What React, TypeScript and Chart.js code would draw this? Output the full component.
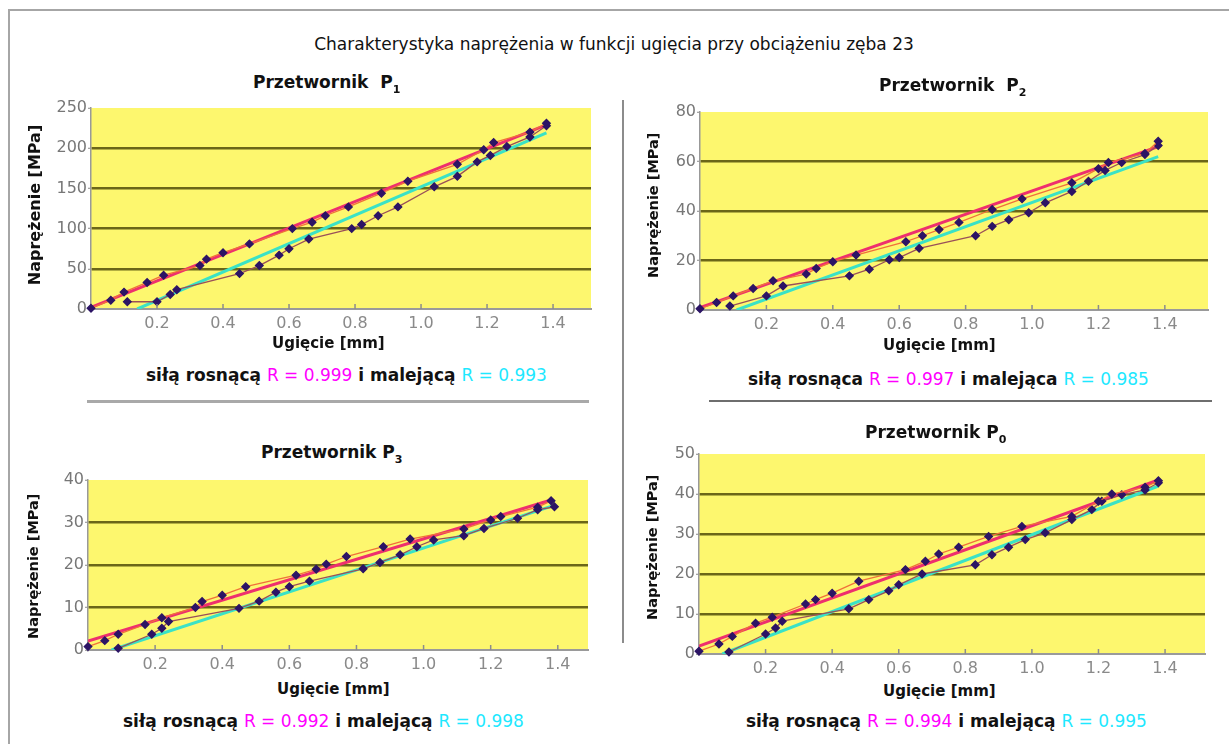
import React, { useEffect, useRef } from 'react';
import { Chart, registerables } from 'chart.js';

Chart.register(...registerables);

const FONT = "'DejaVu Sans', 'Liberation Sans', sans-serif";

// ---------- Przetwornik P1 ----------
const p1UpX = [0.0, 0.06, 0.1, 0.17, 0.22, 0.33, 0.35, 0.4, 0.48, 0.61, 0.67, 0.71, 0.78, 0.88, 0.96, 1.11, 1.19, 1.22, 1.33, 1.38];
const p1UpY = [1, 11, 21, 33, 42, 54, 62, 70, 81, 100, 108, 116, 127, 144, 159, 180, 198, 207, 220, 231];
const p1DownX = [1.38, 1.33, 1.26, 1.21, 1.17, 1.11, 1.04, 0.93, 0.87, 0.82, 0.79, 0.66, 0.6, 0.57, 0.51, 0.45, 0.26, 0.24, 0.2, 0.11];
const p1DownY = [228, 214, 202, 191, 183, 165, 152, 127, 116, 105, 100, 87, 75, 67, 54, 44, 24, 18, 9, 9];
const p1TrendUpX = [0, 1.38];
const p1TrendUpY = [2, 229];
const p1TrendDownX = [0.14, 1.38];
const p1TrendDownY = [0, 219];

// ---------- Przetwornik P2 ----------
const p2UpX = [0.0, 0.05, 0.1, 0.16, 0.22, 0.32, 0.35, 0.4, 0.47, 0.62, 0.67, 0.72, 0.78, 0.88, 0.97, 1.12, 1.2, 1.23, 1.34, 1.38];
const p2UpY = [0.5, 3, 5.7, 8.7, 11.8, 14.5, 16.8, 19.5, 22.2, 27.6, 30, 32.5, 35.4, 40.6, 44.9, 51.4, 57.1, 59.6, 63.2, 68.2];
const p2DownX = [1.38, 1.34, 1.27, 1.22, 1.17, 1.12, 1.04, 0.99, 0.93, 0.88, 0.83, 0.66, 0.6, 0.57, 0.51, 0.45, 0.25, 0.2, 0.09];
const p2DownY = [66.5, 62.8, 59.6, 56.4, 52, 47.9, 43.3, 39.3, 36.5, 33.8, 30, 24.9, 21.2, 20.3, 16.5, 13.8, 9.7, 5.7, 1.6];
const p2TrendUpX = [0, 1.38];
const p2TrendUpY = [1, 66];
const p2TrendDownX = [0.11, 1.38];
const p2TrendDownY = [0, 62];

// ---------- Przetwornik P3 ----------
const p3UpX = [0.0, 0.05, 0.09, 0.17, 0.22, 0.32, 0.34, 0.4, 0.47, 0.62, 0.68, 0.71, 0.77, 0.88, 0.96, 1.12, 1.2, 1.23, 1.34, 1.38];
const p3UpY = [0.8, 2.2, 3.7, 6, 7.6, 10, 11.4, 12.9, 14.9, 17.6, 19, 20.2, 22, 24.3, 26.1, 28.5, 30.6, 31.4, 33.6, 35.1];
const p3DownX = [1.39, 1.34, 1.28, 1.18, 1.12, 1.03, 0.98, 0.93, 0.87, 0.82, 0.66, 0.6, 0.56, 0.51, 0.45, 0.24, 0.22, 0.19, 0.09];
const p3DownY = [33.7, 33.0, 31, 28.6, 26.9, 25.9, 24.3, 22.4, 20.6, 19.1, 16.2, 14.9, 13.6, 11.5, 9.8, 6.7, 5.1, 3.7, 0.4];
const p3TrendUpX = [0, 1.38];
const p3TrendUpY = [2.1, 35.3];
const p3TrendDownX = [0.07, 1.38];
const p3TrendDownY = [0, 33.8];

// ---------- Przetwornik P0 ----------
const p0UpX = [0.0, 0.06, 0.1, 0.17, 0.22, 0.32, 0.35, 0.4, 0.48, 0.62, 0.68, 0.72, 0.78, 0.87, 0.97, 1.12, 1.2, 1.24, 1.34, 1.38];
const p0UpY = [0.7, 2.5, 4.4, 7.7, 9.2, 12.5, 13.6, 15.2, 18.2, 21.1, 23.2, 25, 26.7, 29.4, 31.9, 34.4, 38.2, 40, 41.7, 43.3];
const p0DownX = [1.38, 1.34, 1.27, 1.21, 1.18, 1.12, 1.04, 0.98, 0.93, 0.88, 0.83, 0.67, 0.6, 0.57, 0.51, 0.45, 0.25, 0.23, 0.2, 0.09];
const p0DownY = [42.8, 41, 39.8, 38.2, 36.1, 33.6, 30.3, 28.6, 26.7, 24.8, 22.3, 20, 17.3, 15.8, 13.6, 11.3, 8.2, 6.5, 5, 0.5];
const p0TrendUpX = [0, 1.38];
const p0TrendUpY = [2, 43.5];
const p0TrendDownX = [0.07, 1.38];
const p0TrendDownY = [0, 42];

// axis ranges
const xMaxes = [1.515, 1.53, 1.49, 1.52];
const yMaxes = [250, 80, 40, 50];
const ySteps = [50, 20, 10, 10];

// texts
const mainTitle = 'Charakterystyka naprężenia w funkcji ugięcia przy obciążeniu zęba 23';
const xTitle = 'Ugięcie [mm]';
const yTitle = 'Naprężenie [MPa]';
const rUp = ['R = 0.999', 'R = 0.997', 'R = 0.992', 'R = 0.994'];
const rDown = ['R = 0.993', 'R = 0.985', 'R = 0.998', 'R = 0.995'];
const capA = ['siłą rosnącą ', 'siłą rosnąca ', 'siłą rosnącą ', 'siłą rosnącą '];
const capB = [' i malejącą ', ' i malejąca ', ' i malejącą ', ' i malejącą '];
const subs = ['1', '2', '3', '0'];

const zip = (xs: number[], ys: number[]) => xs.map((x, i) => ({ x, y: ys[i] }));

type Geo = { L: number; R: number; T: number; B: number };

const bgPlugin = {
  id: 'yellowBg',
  beforeDraw(chart: any) {
    const { ctx, chartArea } = chart;
    ctx.save();
    ctx.fillStyle = '#fdf76e';
    ctx.fillRect(chartArea.left, chartArea.top, chartArea.right - chartArea.left, chartArea.bottom - chartArea.top);
    ctx.restore();
  },
};

const innerTicks = {
  id: 'innerTicks',
  afterDraw(chart: any) {
    const { ctx, chartArea } = chart;
    const xs = chart.scales.x;
    ctx.save();
    ctx.strokeStyle = '#8c8c8c';
    ctx.lineWidth = 1.5;
    ctx.beginPath();
    xs.ticks.forEach((t: any) => {
      if (Math.abs(t.value) < 1e-9) return;
      const px = xs.getPixelForValue(t.value);
      ctx.moveTo(px, chartArea.bottom);
      ctx.lineTo(px, chartArea.bottom - 5);
    });
    ctx.stroke();
    ctx.restore();
  },
};

function Plot(props: {
  geo: Geo; xMax: number; yMax: number; yStep: number;
  up: { x: number; y: number }[]; down: { x: number; y: number }[];
  tUp: { x: number; y: number }[]; tDown: { x: number; y: number }[];
}) {
  const { geo, xMax, yMax, yStep } = props;
  const yW = 50, xH = 28, padT = 12, padR = 14;
  const width = yW + (geo.R - geo.L) + padR;
  const height = padT + (geo.B - geo.T) + xH;
  const ref = useRef<HTMLCanvasElement>(null);
  useEffect(() => {
    if (!ref.current) return;
    const marker = '#2c1465';
    const chart = new Chart(ref.current, {
      type: 'scatter',
      data: {
        datasets: [
          { data: props.up, showLine: true, borderColor: '#f0703a', borderWidth: 1.3, pointStyle: 'rectRot', pointRadius: 3.8, pointBackgroundColor: marker, pointBorderColor: marker, order: 1, clip: false } as any,
          { data: props.down, showLine: true, borderColor: '#9a5058', borderWidth: 1.3, pointStyle: 'rectRot', pointRadius: 3.8, pointBackgroundColor: marker, pointBorderColor: marker, order: 2, clip: false } as any,
          { data: props.tUp, showLine: true, borderColor: '#ee2f6e', borderWidth: 3, pointRadius: 0, order: 3 } as any,
          { data: props.tDown, showLine: true, borderColor: '#3ae2c6', borderWidth: 3, pointRadius: 0, order: 4 } as any,
        ],
      },
      options: {
        animation: false,
        responsive: false,
        maintainAspectRatio: false,
        devicePixelRatio: 1,
        layout: { padding: { top: padT, right: padR, left: 0, bottom: 0 } },
        plugins: { legend: { display: false }, tooltip: { enabled: false }, title: { display: false } },
        scales: {
          x: {
            type: 'linear', min: 0, max: xMax,
            afterFit: (s: any) => { s.height = xH; },
            grid: { display: false },
            border: { display: true, color: '#9a9a9a', width: 2 },
            ticks: {
              stepSize: 0.2, includeBounds: false, autoSkip: false, maxRotation: 0, padding: -3,
              color: '#8a8a8a', font: { family: FONT, size: 16 },
              callback: (v: any) => (Math.abs(Number(v)) < 1e-9 ? '' : Number(v).toFixed(1)),
            },
          },
          y: {
            type: 'linear', min: 0, max: yMax,
            afterFit: (s: any) => { s.width = yW; },
            grid: {
              color: (c: any) => (c.tick && (c.tick.value === 0 || c.tick.value === yMax) ? 'rgba(0,0,0,0)' : '#6b6618'),
              lineWidth: 2.5, drawTicks: true, tickLength: 3, tickColor: '#888', tickWidth: 1,
            },
            border: { display: true, color: '#999', width: 1.5 },
            ticks: { stepSize: yStep, padding: 1, color: '#777', font: { family: FONT, size: 16 } },
          },
        },
      } as any,
      plugins: [bgPlugin, innerTicks],
    });
    return () => chart.destroy();
  }, []);
  return (
    <canvas
      ref={ref}
      width={width}
      height={height}
      style={{ position: 'absolute', left: geo.L - yW, top: geo.T - padT, width, height }}
    />
  );
}

function Txt(props: { left: number; base: number; size: number; bold?: boolean; color?: string; children: any; center?: boolean }) {
  const { left, base, size, bold, color, center } = props;
  const style: any = {
    position: 'absolute',
    top: base - 0.846 * size,
    left: center ? left - 400 : left,
    width: center ? 800 : undefined,
    textAlign: center ? 'center' : 'left',
    fontFamily: FONT,
    fontSize: size,
    lineHeight: `${size}px`,
    fontWeight: bold ? 'bold' : 'normal',
    color: color || '#111',
    whiteSpace: 'pre',
  };
  return <div style={style}>{props.children}</div>;
}

function YTitle(props: { cx: number; cy: number; size: number }) {
  const w = 240;
  return (
    <div
      style={{
        position: 'absolute', left: props.cx - w / 2, top: props.cy - props.size / 2, width: w,
        height: props.size, lineHeight: `${props.size}px`, textAlign: 'center', fontFamily: FONT,
        fontSize: props.size, fontWeight: 'bold', color: '#111', transform: 'rotate(-90deg)',
        transformOrigin: 'center center', whiteSpace: 'nowrap',
      }}
    >
      {yTitle}
    </div>
  );
}

function Caption(props: { i: number; left: number; base: number }) {
  const { i } = props;
  return (
    <Txt left={props.left} base={props.base} size={17} bold>
      {capA[i]}
      <span style={{ color: '#f0f', fontWeight: 'normal' }}>{rUp[i]}</span>
      {capB[i]}
      <span style={{ color: '#1ee8ff', fontWeight: 'normal' }}>{rDown[i]}</span>
    </Txt>
  );
}

function PTitle(props: { i: number; left: number; base: number; gap: string }) {
  return (
    <Txt left={props.left} base={props.base} size={17} bold>
      {'Przetwornik' + props.gap + 'P'}
      <span style={{ fontSize: 11, position: 'relative', top: 5 }}>{subs[props.i]}</span>
    </Txt>
  );
}

const geos: Geo[] = [
  { L: 91, R: 591, T: 108, B: 309 },
  { L: 700, R: 1208, T: 112, B: 310 },
  { L: 88, R: 588, T: 480, B: 650 },
  { L: 699, R: 1205, T: 454, B: 654 },
];

export default function App() {
  const ups = [zip(p1UpX, p1UpY), zip(p2UpX, p2UpY), zip(p3UpX, p3UpY), zip(p0UpX, p0UpY)];
  const downs = [zip(p1DownX, p1DownY), zip(p2DownX, p2DownY), zip(p3DownX, p3DownY), zip(p0DownX, p0DownY)];
  const tUps = [zip(p1TrendUpX, p1TrendUpY), zip(p2TrendUpX, p2TrendUpY), zip(p3TrendUpX, p3TrendUpY), zip(p0TrendUpX, p0TrendUpY)];
  const tDowns = [zip(p1TrendDownX, p1TrendDownY), zip(p2TrendDownX, p2TrendDownY), zip(p3TrendDownX, p3TrendDownY), zip(p0TrendDownX, p0TrendDownY)];
  return (
    <div style={{ position: 'absolute', left: 0, top: 0, width: 1229, height: 744, background: '#fff', overflow: 'hidden' }}>
      {/* frame */}
      <div style={{ position: 'absolute', left: 8, top: 9, width: 1221, height: 2, background: '#a6a6a6' }} />
      <div style={{ position: 'absolute', left: 8, top: 9, width: 2, height: 735, background: '#a6a6a6' }} />
      {/* separators */}
      <div style={{ position: 'absolute', left: 622, top: 100, width: 2, height: 543, background: '#8c8c8c' }} />
      <div style={{ position: 'absolute', left: 87, top: 400, width: 502, height: 3, background: '#a9a9a9' }} />
      <div style={{ position: 'absolute', left: 709, top: 400, width: 503, height: 2, background: '#6e6e6e' }} />

      <Txt left={614} base={50} size={17} center>{mainTitle}</Txt>

      {geos.map((g, i) => (
        <Plot key={i} geo={g} xMax={xMaxes[i]} yMax={yMaxes[i]} yStep={ySteps[i]} up={ups[i]} down={downs[i]} tUp={tUps[i]} tDown={tDowns[i]} />
      ))}

      <PTitle i={0} left={253} base={88} gap={'\u00a0\u00a0'} />
      <PTitle i={1} left={879} base={91} gap={'\u00a0\u00a0'} />
      <PTitle i={2} left={261} base={458} gap={' '} />
      <PTitle i={3} left={865} base={438} gap={' '} />

      <Txt left={272} base={349} size={15} bold>{xTitle}</Txt>
      <Txt left={883} base={351} size={15} bold>{xTitle}</Txt>
      <Txt left={277} base={695} size={15} bold>{xTitle}</Txt>
      <Txt left={883} base={697} size={15} bold>{xTitle}</Txt>

      <YTitle cx={35} cy={205} size={16} />
      <YTitle cx={653} cy={205} size={14.5} />
      <YTitle cx={33} cy={566} size={14.5} />
      <YTitle cx={652} cy={547} size={14.5} />

      <Caption i={0} left={146} base={381} />
      <Caption i={1} left={748} base={385} />
      <Caption i={2} left={123} base={727} />
      <Caption i={3} left={746} base={727} />
    </div>
  );
}
